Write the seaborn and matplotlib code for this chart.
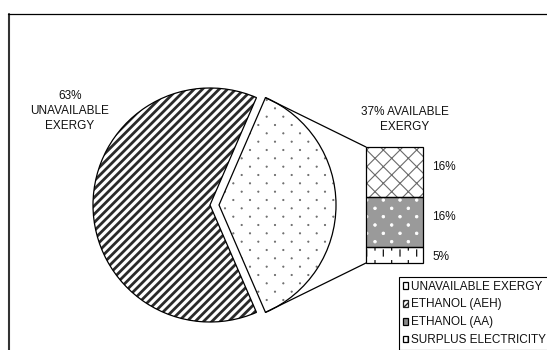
import numpy as np
import matplotlib
matplotlib.use("Agg")
import matplotlib.pyplot as plt
import matplotlib.hatch as mhatch
from matplotlib.path import Path
from matplotlib.patches import Patch, Wedge, Rectangle, ConnectionPatch
from matplotlib.lines import Line2D
import seaborn as sns

# ---- data -------------------------------------------------------------
pie_labels = ["UNAVAILABLE EXERGY", "AVAILABLE EXERGY"]
pie_values = [63, 37]                      # % of total exergy
bar_labels = ["ETHANOL (AEH)", "ETHANOL (AA)", "SURPLUS ELECTRICITY"]
bar_values = [16, 16, 5]                   # split of the available 37 %
legend_labels = ["UNAVAILABLE EXERGY", "ETHANOL (AEH)", "ETHANOL (AA)",
                 "SURPLUS ELECTRICITY"]


# ---- extra hatch textures ---------------------------------------------
class StaggeredDots(mhatch.HatchPatternBase):
    """Filled dots: rows 1/12 apart, 1/6 apart in a row, odd rows shifted."""

    def __init__(self, hatch, density):
        self.count = hatch.count(".")
        circle = Path.unit_circle()
        self._v, self._c = circle.vertices, circle.codes
        self._pts = []
        for j in range(13):
            xs = ([k / 6 for k in range(7)] if j % 2 == 0
                  else [(2 * k + 1) / 12 for k in range(6)])
            self._pts += [(x, j / 12) for x in xs]
        self.num_vertices = len(self._pts) * len(self._v) if self.count else 0

    def set_vertices_and_codes(self, vertices, codes):
        r = 0.0065 * self.count
        vertices[:] = np.concatenate([self._v * r + p for p in self._pts])
        codes[:] = np.tile(self._c, len(self._pts))

    get_vertices_and_codes = set_vertices_and_codes


class HangingTicks(mhatch.HatchPatternBase):
    """Short vertical ticks, alternately hanging down and standing up."""

    def __init__(self, hatch, density):
        self.on = "*" in hatch
        self._segs = []
        for j in range(7):
            y = j / 6
            for k in range(13):
                x = k / 12
                if k % 2 == 0:
                    self._segs.append(((x, y), (x, y - 0.06)))
                else:
                    self._segs.append(((x, y - 1 / 6), (x, y - 1 / 6 + 0.06)))
        self.num_vertices = 2 * len(self._segs) if self.on else 0

    def set_vertices_and_codes(self, vertices, codes):
        vertices[:] = np.array([p for s in self._segs for p in s])
        codes[0::2] = Path.MOVETO
        codes[1::2] = Path.LINETO

    get_vertices_and_codes = set_vertices_and_codes


mhatch._hatch_types[:] = [t for t in mhatch._hatch_types
                          if t not in (mhatch.SmallFilledCircles, mhatch.Stars)]
mhatch._hatch_types += [StaggeredDots, HangingTicks]


def set_hatch_width(artist, lw):
    if hasattr(artist, "set_hatch_linewidth"):
        artist.set_hatch_linewidth(lw)
    else:
        artist._hatch_linewidth = lw


# ---- style ------------------------------------------------------------
sns.set_theme(style="white")
plt.rcParams["font.family"] = ["Liberation Sans", "DejaVu Sans"]
plt.rcParams["font.size"] = 8.5
plt.rcParams["text.color"] = "#111111"

W, H = 547, 350
fig = plt.figure(figsize=(W / 100, H / 100), dpi=100)
fig.patch.set_facecolor("white")

# main canvas in pixel-like units (y up)
ax = fig.add_axes([0, 0, 1, 1])

# ---- pie --------------------------------------------------------------
radius = 117
start = 360 * pie_values[1] / sum(pie_values) / 2
wedges, _ = ax.pie(pie_values, startangle=start, counterclock=True,
                   explode=[0, 0.077 * radius], center=(210, 145),
                   radius=radius, colors=["white", "white"],
                   wedgeprops=dict(linewidth=0))
ax.set_xlim(0, W)
ax.set_ylim(0, H)
ax.set_aspect("auto")
ax.axis("off")

pie_styles = [dict(hatch="////", hc="#2a2a2a", hlw=2.0),
              dict(hatch=".", hc="#6e6e6e", hlw=0.6)]
for w, st in zip(wedges, pie_styles):
    w.set_hatch(st["hatch"])
    w.set_edgecolor(st["hc"])
    set_hatch_width(w, st["hlw"])
    ax.add_patch(Wedge(w.center, w.r, w.theta1, w.theta2, fill=False,
                       edgecolor="black", linewidth=0.9, zorder=3))

# ---- stacked bar of the available share -------------------------------
bax = fig.add_axes([366 / W, (H - 263) / H, 57 / W, 116 / H])
cum = np.cumsum(bar_values[::-1])[::-1]          # tops of each segment
bar_styles = [dict(fc="white", hatch="xx", hc="#6a6a6a", hlw=0.8),
              dict(fc="#9a9a9a", hatch="..", hc="white", hlw=0.6),
              dict(fc="white", hatch="*", hc="#111111", hlw=0.9)]
for top, st in zip(cum, bar_styles):
    sns.barplot(x=["AVAILABLE"], y=[top], ax=bax, width=1, color=st["fc"],
                saturation=1, edgecolor=st["hc"], linewidth=0,
                hatch=st["hatch"])
    p = bax.patches[-1]
    set_hatch_width(p, st["hlw"])
bax.set_xlim(-0.5, 0.5)
bax.set_ylim(0, cum[0])
bax.axis("off")

bottoms = list(cum[1:]) + [0]
for top, bot, v in zip(cum, bottoms, bar_values):
    bax.add_patch(Rectangle((-0.5, bot), 1, top - bot, fill=False,
                            edgecolor="black", linewidth=0.9,
                            clip_on=False, zorder=5))
    bax.text(0.66, (top + bot) / 2 + (1.6 if v > 8 else -0.5), f"{v}%",
             ha="left", va="center", fontsize=8.5)

# connector lines from the available slice to the bar
avail = wedges[1]
for ang, yb in [(avail.theta2, cum[0]), (avail.theta1, 0)]:
    a = np.deg2rad(ang)
    xa = avail.center[0] + avail.r * np.cos(a)
    ya = avail.center[1] + avail.r * np.sin(a)
    fig.add_artist(ConnectionPatch(xyA=(xa, ya), coordsA=ax.transData,
                                   xyB=(-0.5, yb), coordsB=bax.transData,
                                   color="black", linewidth=0.9))

# ---- labels -----------------------------------------------------------
ax.text(70, H - 111, f"{pie_values[0]}%\nUNAVAILABLE\nEXERGY",
        ha="center", va="center", linespacing=1.32, fontsize=8.5)
ax.text(405, H - 119.5, f"{pie_values[1]}% AVAILABLE\nEXERGY",
        ha="center", va="center", linespacing=1.32, fontsize=8.5)

# ---- legend -----------------------------------------------------------
handles = [Patch(facecolor="white", edgecolor="black", linewidth=0.9),
           Patch(facecolor="white", edgecolor="#222222", hatch="//////",
                 linewidth=0.9),
           Patch(facecolor="#8a8a8a", edgecolor="black", linewidth=0.9),
           Patch(facecolor="white", edgecolor="black", hatch="|||",
                 linewidth=0.9)]
leg = ax.legend(handles, legend_labels, loc="upper left",
                bbox_to_anchor=(399 / W, 1 - 277 / H),
                bbox_transform=fig.transFigure, frameon=True, fancybox=False,
                edgecolor="black", framealpha=1, borderpad=0.3,
                labelspacing=0.5, handlelength=0.5, handleheight=0.5,
                handletextpad=0.25, borderaxespad=0, fontsize=8.5)
leg.get_frame().set_linewidth(0.8)

# ---- chart-area frame (open to the right and bottom) ------------------
fig.add_artist(Line2D([8.5 / W, 8.5 / W], [0, 1 - 13.5 / H],
                      transform=fig.transFigure, color="#333333",
                      linewidth=1.5))
fig.add_artist(Line2D([8 / W, 1], [1 - 13.5 / H, 1 - 13.5 / H],
                      transform=fig.transFigure, color="black",
                      linewidth=0.9))

fig.savefig("out.png", dpi=100, facecolor="white")
